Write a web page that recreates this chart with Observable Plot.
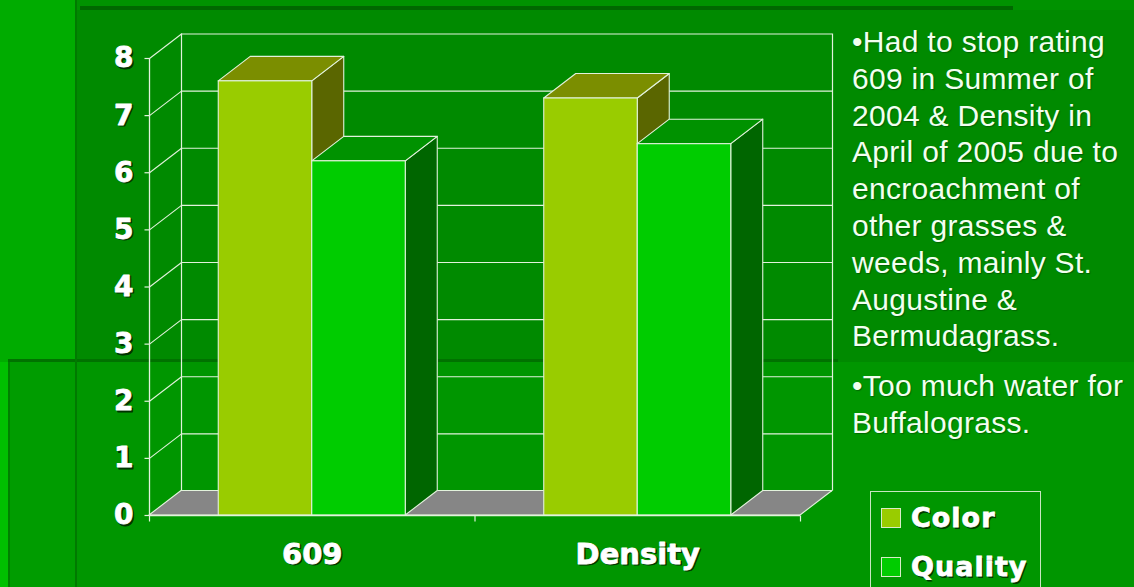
<!DOCTYPE html>
<html><head><meta charset="utf-8">
<script src="https://cdn.jsdelivr.net/npm/d3@7"></script>
<script src="https://cdn.jsdelivr.net/npm/@observablehq/plot@0.6"></script>
<style>
html,body{margin:0;padding:0;width:1134px;height:587px;overflow:hidden;background:#009400;}
.bg{position:absolute;}
#chart{position:absolute;left:0;top:0;}
#notes{position:absolute;left:852px;top:24px;font-family:"Liberation Sans",Arial,sans-serif;font-size:30px;line-height:36.8px;color:#f2fff0;letter-spacing:0.3px;text-shadow:1px 1px 1px rgba(0,50,0,0.45);white-space:nowrap;}
#notes p{margin:0;}
#notes p + p{margin-top:13px;}
#legend{position:absolute;left:870px;top:491px;width:171px;height:110px;border:1.5px solid #c8e6c0;box-sizing:border-box;}
.item{position:absolute;left:10px;display:flex;align-items:center;height:20px;}
.sw{width:20px;height:20px;border:1px solid #d8ecc8;box-sizing:border-box;margin-right:10px;}
.lab{font-family:"DejaVu Sans",sans-serif;font-weight:bold;font-size:27px;color:#fff;letter-spacing:1px;-webkit-text-stroke:0.8px #fff;text-shadow:1.5px 1.5px 0 #003a00;}
</style></head><body>
<div class="bg" style="left:0;top:0;width:77px;height:362px;background:#00ac00"></div>
<div class="bg" style="left:77px;top:0;width:1057px;height:10px;background:#009200"></div>
<div class="bg" style="left:77px;top:10px;width:1057px;height:352px;background:#008a00"></div>
<div class="bg" style="left:80px;top:6px;width:933px;height:4px;background:#006800"></div>
<div class="bg" style="left:0;top:362px;width:1134px;height:225px;background:#009600"></div>
<div class="bg" style="left:0;top:362px;width:8px;height:225px;background:#00c000"></div>
<div class="bg" style="left:10px;top:362px;width:65px;height:225px;background:#009c00"></div>
<div class="bg" style="left:8px;top:362px;width:2px;height:225px;background:#008000"></div>
<div class="bg" style="left:8px;top:359px;width:830px;height:3px;background:#007200"></div>
<div class="bg" style="left:75px;top:0;width:2px;height:587px;background:#007a00"></div>
<div id="chart"></div>
<div id="notes">
<p>•Had to stop rating<br>609 in Summer of<br>2004 &amp; Density in<br>April of 2005 due to<br>encroachment of<br>other grasses &amp;<br>weeds, mainly St.<br>Augustine &amp;<br>Bermudagrass.</p>
<p>•Too much water for<br>Buffalograss.</p>
</div>
<div id="legend"></div>
<script>
// ---- data ----
const categories = ["609", "Density"];
const series = ["Color", "Quality"];
const colorValues = [7.6, 7.3];
const qualityValues = [6.2, 6.5];
const yTicks = [0, 1, 2, 3, 4, 5, 6, 7, 8];
const seriesFront = ["#99cc00", "#00cc00"];
const seriesTop = ["#7b8e00", "#009200"];
const seriesSide = ["#5a6600", "#006600"];

// ---- layout ----
const W = 1134, H = 587;
const X_RANGE = [149, 800], Y_RANGE = [515, 58];
const xDomain = [0, categories.length], yDomain = [0, 8];
const xPerPx = (xDomain[1] - xDomain[0]) / (X_RANGE[1] - X_RANGE[0]);
const yPerPx = (yDomain[1] - yDomain[0]) / (Y_RANGE[0] - Y_RANGE[1]);
const DEPTH_PX = [32, 24.5];
const ddx = DEPTH_PX[0] * xPerPx;
const ddy = DEPTH_PX[1] * yPerPx;
const BAR_W = 93.5 * xPerPx;
const LINE = "#e2f2dc";

const valuesBySeries = [colorValues, qualityValues];
const bars = [];
series.forEach((s, si) => {
  categories.forEach((c, ci) => {
    const center = ci + 0.5;
    const x1 = center + (si - 1) * BAR_W;
    bars.push({id: s + c, si, value: valuesBySeries[si][ci], x1, x2: x1 + BAR_W});
  });
});

const barMarks = [];
series.forEach((s, si) => {
  const bs = bars.filter(b => b.si === si);
  const side = bs.flatMap(b => [
    {id: b.id, x: b.x2, y1: 0, y2: b.value},
    {id: b.id, x: b.x2 + ddx, y1: ddy, y2: b.value + ddy}
  ]);
  const top = bs.flatMap(b => [
    {id: b.id, y: b.value, x1: b.x1, x2: b.x2},
    {id: b.id, y: b.value + ddy, x1: b.x1 + ddx, x2: b.x2 + ddx}
  ]);
  barMarks.push(
    Plot.areaY(side, {x: "x", y1: "y1", y2: "y2", z: "id", fill: seriesSide[si], stroke: LINE, strokeWidth: 1.1}),
    Plot.areaX(top, {y: "y", x1: "x1", x2: "x2", z: "id", fill: seriesTop[si], stroke: LINE, strokeWidth: 1.1}),
    Plot.rect(bs, {x1: "x1", x2: "x2", y1: 0, y2: "value", fill: seriesFront[si], stroke: LINE, strokeWidth: 1.1})
  );
});

const floor = [
  {y: 0, x1: 0, x2: xDomain[1]},
  {y: ddy, x1: ddx, x2: xDomain[1] + ddx}
];
const catIdx = categories.map((c, i) => ({c, i}));
const bottomTicks = d3.range(categories.length + 1);
const labelFont = {fontFamily: "DejaVu Sans", fontWeight: "bold"};

const chart = Plot.plot({
  width: W, height: H,
  x: {type: "linear", domain: xDomain, range: X_RANGE, axis: null},
  y: {type: "linear", domain: yDomain, range: Y_RANGE, axis: null},
  style: {background: "transparent", overflow: "visible"},
  marks: [
    Plot.ruleY(yTicks, {y: d => d, x1: 0, x2: xDomain[1], dx: DEPTH_PX[0], dy: -DEPTH_PX[1], stroke: LINE, strokeWidth: 1.2}),
    Plot.ruleX([0, xDomain[1]], {x: d => d, y1: 0, y2: yDomain[1], dx: DEPTH_PX[0], dy: -DEPTH_PX[1], stroke: LINE, strokeWidth: 1.2}),
    Plot.link(yTicks, {x1: 0, y1: d => d, x2: ddx, y2: d => d + ddy, stroke: LINE, strokeWidth: 1.1}),
    Plot.ruleX([0], {y1: 0, y2: yDomain[1], stroke: LINE, strokeWidth: 1.3}),
    Plot.areaX(floor, {y: "y", x1: "x1", x2: "x2", fill: "#868686", stroke: LINE, strokeWidth: 1.1}),
    ...barMarks,
    Plot.ruleY([0], {x1: 0, x2: xDomain[1], stroke: LINE, strokeWidth: 1.3}),
    Plot.link(yTicks, {x1: -5 * xPerPx, x2: 0, y1: d => d, y2: d => d, stroke: LINE, strokeWidth: 1.2}),
    Plot.link(bottomTicks, {x1: d => d, x2: d => d, y1: 0, y2: -6 * yPerPx, stroke: LINE, strokeWidth: 1.2}),
    Plot.text(yTicks, {x: 0, y: d => d, text: d => String(d), dx: -14.5, dy: 1.5, textAnchor: "end", fill: "#003300", stroke: "#003300", strokeWidth: 0.8, ...labelFont, fontSize: 28}),
    Plot.text(yTicks, {x: 0, y: d => d, text: d => String(d), dx: -16, textAnchor: "end", fill: "#ffffff", stroke: "#ffffff", strokeWidth: 0.8, ...labelFont, fontSize: 28}),
    Plot.text(catIdx, {x: d => d.i + 0.5, y: 0, text: "c", dy: 40.5, dx: 1.5, fill: "#003300", stroke: "#003300", strokeWidth: 0.8, ...labelFont, fontSize: 29}),
    Plot.text(catIdx, {x: d => d.i + 0.5, y: 0, text: "c", dy: 39, fill: "#ffffff", stroke: "#ffffff", strokeWidth: 0.8, ...labelFont, fontSize: 29})
  ]
});
document.getElementById("chart").appendChild(chart);

// legend
const legend = document.getElementById("legend");
series.forEach((s, i) => {
  const item = document.createElement("div");
  item.className = "item";
  item.style.top = (15.5 + i * 49) + "px";
  const sw = document.createElement("div");
  sw.className = "sw";
  sw.style.background = seriesFront[i];
  const lab = document.createElement("div");
  lab.className = "lab";
  lab.textContent = s;
  item.appendChild(sw); item.appendChild(lab);
  legend.appendChild(item);
});
</script>
</body></html>
